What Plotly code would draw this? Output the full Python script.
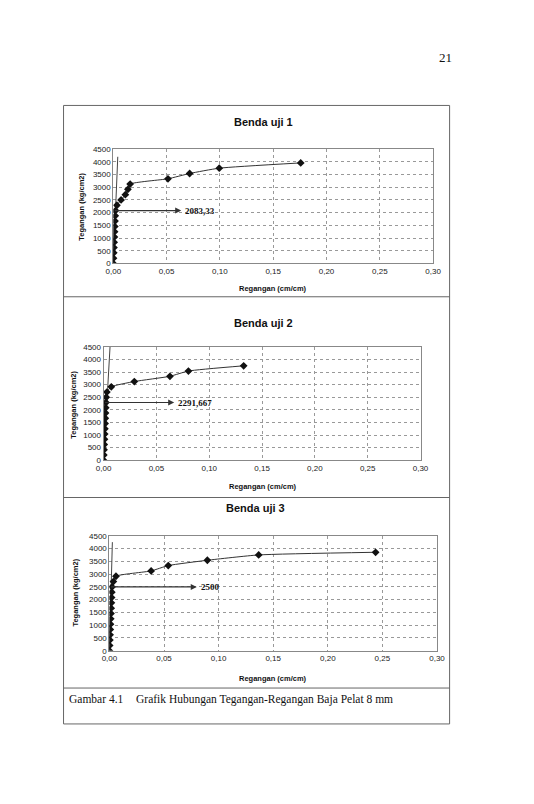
import plotly.graph_objects as go

# ======= DATA ========
# Benda uji 1
regangan_1 = [0, 0.0002, 0.0004, 0.0006, 0.0008, 0.0010, 0.0012, 0.0014, 0.0016, 0.0018,
              0.0021, 0.0034, 0.0073, 0.0113, 0.0137, 0.0158, 0.0513, 0.0716, 0.0994, 0.1758]
tegangan_1 = [0, 208.33, 416.67, 625, 833.33, 1041.67, 1250, 1458.33, 1666.67, 1875,
              2083.33, 2291.67, 2500, 2708.33, 2916.67, 3125, 3333.33, 3541.67, 3750, 3958.33]

# Benda uji 2
regangan_2 = [0, 0.0002, 0.0004, 0.0006, 0.0008, 0.0010, 0.0012, 0.0014, 0.0016, 0.0018,
              0.0020, 0.0022, 0.0025, 0.0031, 0.0073, 0.0291, 0.0628, 0.0803, 0.1326]
tegangan_2 = [0, 208.33, 416.67, 625, 833.33, 1041.67, 1250, 1458.33, 1666.67, 1875,
              2083.33, 2291.67, 2500, 2708.33, 2916.67, 3125, 3333.33, 3541.67, 3750]

# Benda uji 3
regangan_3 = [0, 0.0002, 0.0004, 0.0006, 0.0008, 0.0010, 0.0012, 0.0014, 0.0016, 0.0018,
              0.0020, 0.0022, 0.0024, 0.0036, 0.0060, 0.0382, 0.0539, 0.0897, 0.1367, 0.2438]
tegangan_3 = [0, 208.33, 416.67, 625, 833.33, 1041.67, 1250, 1458.33, 1666.67, 1875,
              2083.33, 2291.67, 2500, 2708.33, 2916.67, 3125, 3333.33, 3541.67, 3750, 3854]

# garis elastis (modulus)
elastis_x = [[0, 0.0042], [0, 0.0065], [0, 0.0027]]
elastis_y = [[0, 4200], [0, 4800], [0, 4250]]

# tegangan leleh (panah)
leleh = [2083.33, 2291.667, 2500]
leleh_label = ["2083,33", "2291,667", "2500"]
panah_ujung = [0.0637, 0.0668, 0.080]

judul = ["Benda uji 1", "Benda uji 2", "Benda uji 3"]
x_ticks = [0, 0.05, 0.10, 0.15, 0.20, 0.25, 0.30]
x_ticktext = ["0,00", "0,05", "0,10", "0,15", "0,20", "0,25", "0,30"]
y_ticks = [0, 500, 1000, 1500, 2000, 2500, 3000, 3500, 4000, 4500]

# ======= LAYOUT (pixel halaman -> paper) ========
W, H = 534, 804
OFF = 8  # margin body halaman html


def px(x):
    return (x - OFF) / W


def py(y):
    return 1 - (y - OFF) / H


# area plot dalam pixel: kiri, kanan, atas, bawah
areas = [(108.3, 438, 146.7, 262.3), (98.3, 425, 346.7, 461.3), (104.3, 442, 537.7, 654)]
title_pos = [(263, 119), (263, 323), (255, 510)]
xtitle_pos = [(273, 288), (263, 488), (273, 682)]
ytitle_pos = [(76, 205), (67, 405), (69, 595)]

data = [(regangan_1, tegangan_1), (regangan_2, tegangan_2), (regangan_3, tegangan_3)]

fig = go.Figure()
annotations = []
layout_axes = {}


def teks(x, y, s, size, family="Liberation Sans", angle=0, xanchor="center"):
    return dict(x=px(x), y=py(y), xref="paper", yref="paper", showarrow=False, text=s,
                xanchor=xanchor, yanchor="middle", textangle=angle,
                font=dict(family=family, size=size, color="#111"))


for i in range(3):
    n = "" if i == 0 else str(i + 1)
    xa, ya = "x" + n, "y" + n
    x, y = data[i]

    fig.add_trace(go.Scatter(x=elastis_x[i], y=elastis_y[i], mode="lines",
                             line=dict(color="#444", width=1), xaxis=xa, yaxis=ya,
                             showlegend=False, hoverinfo="skip"))
    fig.add_trace(go.Scatter(x=x, y=y, mode="lines+markers",
                             line=dict(color="#333", width=1, shape="spline", smoothing=0.5),
                             marker=dict(symbol="diamond", size=6, color="#111"),
                             xaxis=xa, yaxis=ya, showlegend=False))

    l, r, t, b = areas[i]
    layout_axes["xaxis" + n] = dict(
        domain=[px(l), px(r)], anchor=ya, range=[0, 0.30],
        tickvals=x_ticks, ticktext=x_ticktext, ticks="",
        showgrid=True, gridcolor="#999", griddash="dot", gridwidth=1,
        showline=True, linecolor="#888", linewidth=1, mirror=True,
        zeroline=False, tickfont=dict(size=8, color="#222"),
    )
    layout_axes["yaxis" + n] = dict(
        domain=[py(b), py(t)], anchor=xa, range=[0, 4500],
        tickvals=y_ticks, ticks="",
        showgrid=True, gridcolor="#999", griddash="dot", gridwidth=1,
        showline=True, linecolor="#888", linewidth=1, mirror=True,
        zeroline=False, tickfont=dict(size=8, color="#222"),
    )

    # panah tegangan leleh
    annotations.append(dict(
        x=panah_ujung[i], y=leleh[i], ax=0, ay=leleh[i],
        xref=xa, yref=ya, axref=xa, ayref=ya,
        showarrow=True, arrowhead=2, arrowsize=1, arrowwidth=1.2, arrowcolor="#333", text="",
    ))
    annotations.append(dict(
        x=panah_ujung[i], y=leleh[i], xref=xa, yref=ya, xanchor="left", yanchor="middle",
        xshift=2, showarrow=False, text="<b>" + leleh_label[i] + "</b>",
        font=dict(family="Liberation Serif", size=9, color="#111"),
    ))

    # judul & label sumbu
    annotations.append(teks(*title_pos[i], "<b>" + judul[i] + "</b>", 11))
    annotations.append(teks(*xtitle_pos[i], "<b>Regangan (cm/cm)</b>", 7.5))
    annotations.append(teks(*ytitle_pos[i], "<b>Tegangan (kg/cm2)</b>", 7.5, angle=-90))

# nomor halaman dan keterangan gambar
annotations.append(teks(450.5, 54, "21", 13, family="Liberation Serif"))
annotations.append(teks(61, 703, "Gambar 4.1", 11.5, family="Liberation Serif", xanchor="left"))
annotations.append(teks(130, 703, "Grafik Hubungan Tegangan-Regangan Baja Pelat 8 mm", 11.5,
                        family="Liberation Serif", xanchor="left"))

# bingkai
frame = dict(color="#666", width=1)
shapes = [
    dict(type="rect", xref="paper", yref="paper", x0=px(57), x1=px(455), y0=py(728), y1=py(102.5), line=frame),
    dict(type="line", xref="paper", yref="paper", x0=px(57), x1=px(455), y0=py(296), y1=py(296), line=frame),
    dict(type="line", xref="paper", yref="paper", x0=px(57), x1=px(455), y0=py(499), y1=py(499), line=frame),
    dict(type="line", xref="paper", yref="paper", x0=px(57), x1=px(455), y0=py(691.7), y1=py(691.7), line=frame),
]

fig.update_layout(
    width=W, height=H,
    margin=dict(l=0, r=0, t=0, b=0),
    paper_bgcolor="white", plot_bgcolor="white",
    font=dict(family="Liberation Sans", color="#222"),
    annotations=annotations, shapes=shapes,
    **layout_axes,
)

fig.write_html("out.html")
